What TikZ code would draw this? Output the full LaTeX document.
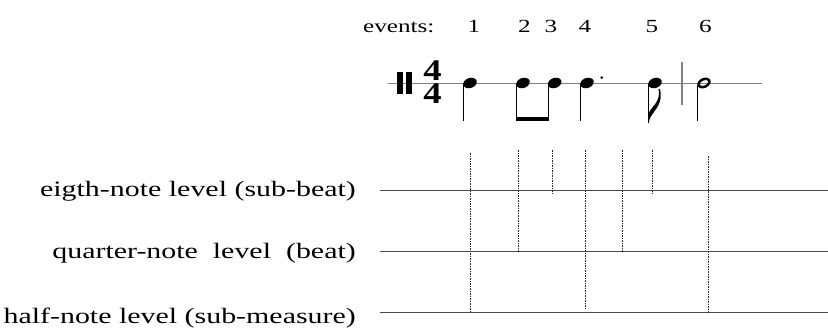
\documentclass[tikz,border=0pt]{standalone}
\usepackage{fontspec}
\setmainfont{Liberation Serif}[FakeStretch=1.36]
\newfontfamily\meterfont{Liberation Serif}[FakeStretch=1.22]
\begin{document}
\begin{tikzpicture}[x=1pt,y=-1pt,
  lbl/.style={font=\fontsize{22}{26}\selectfont, inner sep=0pt, anchor=base east},
  evt/.style={font=\fontsize{18.5}{22}\selectfont, inner sep=0pt, anchor=base},
  meter/.style={font=\meterfont\bfseries\fontsize{30}{22.6}\selectfont, inner sep=0pt,
    align=center, anchor=base},
  level/.style={draw=black!70, line width=0.9pt},
  staffline/.style={draw=black!50, line width=1.1pt},
  tick/.style={draw=black!85, line width=0.6pt, dash pattern=on 1.6pt off 0.9pt},
  stem/.style={draw=black, line width=0.9pt},
]
\useasboundingbox (0,0) rectangle (828,329);

% ---- event labels ----
\node[evt, anchor=base west] (ev) at (363,33) {events:};
\node[evt] (e1) at (474,33) {1};
\node[evt] (e2) at (524.5,33) {2};
\node[evt] (e3) at (551,33) {3};
\node[evt] (e4) at (585,33) {4};
\node[evt] (e5) at (652,33) {5};
\node[evt] (e6) at (705.5,33) {6};

% ---- rhythm on a single staff line ----
\draw[staffline] (388,83.5) -- (762,83.5);
\fill (397.3,72) rectangle (402.7,94);
\fill (406.3,72) rectangle (411.7,94);
\node[meter] (ts) at (432.5,103) {4\\4};

% filled note heads
\foreach \x in {470,523,554.7,587,655}
  \fill[rotate around={20:(\x,83)}] (\x,83) ellipse (7pt and 5pt);
% hollow half-note head, thicker at its sides
\begin{scope}[rotate around={25:(704,83)}]
  \fill[even odd rule] (704,83) ellipse (7pt and 5pt) (704,83) ellipse (4.6pt and 2.6pt);
\end{scope}

% stems
\draw[stem] (463.5,84) -- (463.5,121);
\draw[stem] (516.5,84) -- (516.5,119);
\draw[stem] (548.2,84) -- (548.2,119);
\draw[stem] (580.5,84) -- (580.5,121);
\draw[stem] (648.5,84) -- (648.5,123);
\draw[stem] (697.5,85) -- (697.5,121);
% beam
\fill (516.05,117) rectangle (548.65,121);
% augmentation dot
\fill (601.7,77.7) circle (1.5pt);
% eighth flag
\fill (648.5,123.5) .. controls (650,111) and (664,108) .. (660,89)
  -- (658.6,89) .. controls (661,103) and (651,106) .. (648.5,114) -- cycle;
% bar line
\draw[staffline] (682,62) -- (682,105);

% ---- metrical levels ----
\coordinate (L1) at (380,190);
\coordinate (L2) at (380,251.7);
\coordinate (L3) at (380,312);
\draw[level] (L1) -- (828,190);
\draw[level] (L2) -- (828,251.7);
\draw[level] (L3) -- (828,312);

\node[lbl] (t1) at (356,196.7) {eigth-note level (sub-beat)};
\node[lbl] (t2) at (356,258) {quarter-note~ level~ (beat)};
\node[lbl] (t3) at (356,323) {half-note level (sub-measure)};

% ---- dashed grid of beats ----
\draw[tick] (470.3,153) -- (470.3,312);
\draw[tick] (518.7,150) -- (518.7,252);
\draw[tick] (552.7,150) -- (552.7,193);
\draw[tick] (585.7,150) -- (585.7,308);
\draw[tick] (622.7,150) -- (622.7,252);
\draw[tick] (652.3,150) -- (652.3,193);
\draw[tick] (708,156) -- (708,313);
\end{tikzpicture}
\end{document}
